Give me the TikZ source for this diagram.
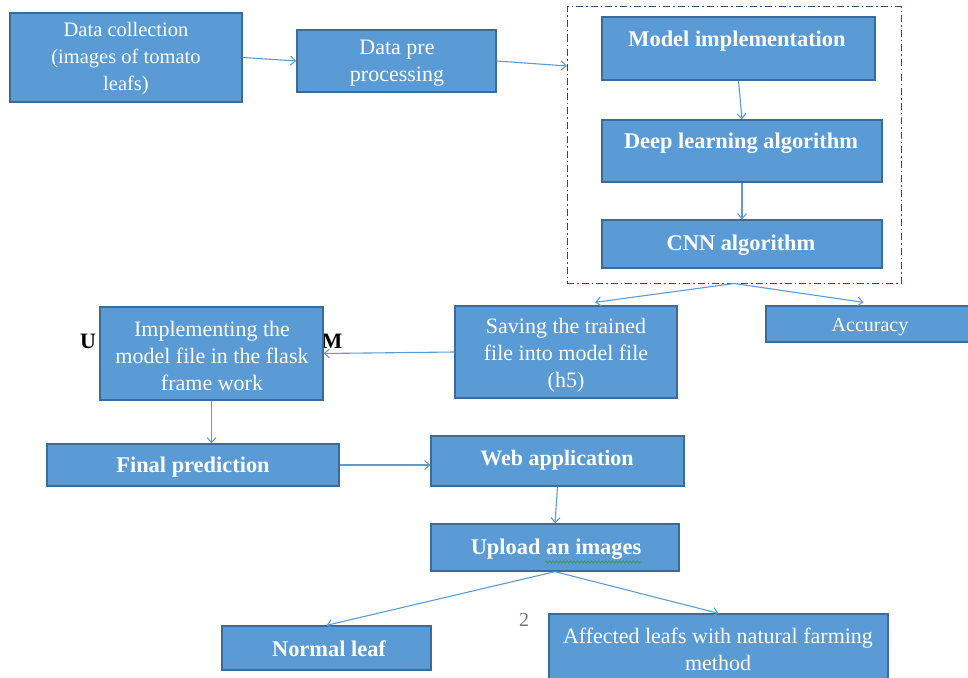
\documentclass[tikz,border=0pt]{standalone}
\usepackage{fontspec}
\setmainfont{Liberation Serif}
\usetikzlibrary{arrows.meta,decorations.pathmorphing}
\definecolor{boxfill}{HTML}{5B9BD5}
\definecolor{boxline}{HTML}{3A6B9A}
\definecolor{linkblue}{HTML}{5B9BD5}
\definecolor{framecol}{HTML}{2A4A78}
\definecolor{numcol}{HTML}{7F7263}
\definecolor{spellgreen}{HTML}{3C9A3C}
\tikzset{
  box/.style={draw=boxline, fill=boxfill, line width=1.3pt, inner sep=0pt},
  txt/.style={text=white, align=center, font=\rmfamily\fontsize{22}{27}\selectfont, inner sep=0pt},
  btxt/.style={txt, font=\rmfamily\fontsize{22.4}{27}\selectfont\bfseries},
  link/.style={draw=linkblue, line width=1.1pt, -{Straight Barb[length=5pt,width=9pt]}},
  groupframe/.style={draw=framecol, line width=1pt, dash pattern=on 7pt off 3pt on 1.5pt off 3pt, inner sep=0pt}
}
\begin{document}
\begin{tikzpicture}[x=1pt,y=-1pt]
\useasboundingbox (0,0) rectangle (968,677);

% heading partly hidden behind the flask box
\node[font=\rmfamily\fontsize{22}{26}\selectfont\bfseries] (hu) at (88,341) {U};
\node[font=\rmfamily\fontsize{22}{26}\selectfont\bfseries] (hm) at (332,341) {M};

% top row
\node[box, minimum width=232pt, minimum height=89pt] (dc) at (126,57.5) {};
\node[txt, font=\rmfamily\fontsize{20.5}{27}\selectfont] at (126,59) {Data collection\\(images of tomato\\leafs)};
\node[box, minimum width=199pt, minimum height=62pt] (dpp) at (396.5,61) {};
\node[txt] at (397,63) {Data pre\\processing};

% model group
\node[groupframe, minimum width=334pt, minimum height=276pt] (frame) at (734,145) {};
\coordinate (fin) at (567,66);
\node[box, minimum width=273pt, minimum height=63pt] (mi) at (738.5,48.5) {};
\node[btxt] at (737,41) {Model implementation};
\node[box, minimum width=280pt, minimum height=62pt] (dl) at (742,151) {};
\node[btxt] at (741,143) {Deep learning algorithm};
\node[box, minimum width=280pt, minimum height=48pt] (cnn) at (742,244) {};
\node[btxt] at (741,245) {CNN algorithm};

% middle row
\node[box, minimum width=222pt, minimum height=92pt] (save) at (566,352) {};
\node[txt] at (566,355) {Saving the trained\\file into model file\\(h5)};
\node[box, minimum width=209pt, minimum height=36pt] (acc) at (870.5,324) {};
\node[txt, font=\rmfamily\fontsize{20}{24}\selectfont] at (870,327) {Accuracy};
\node[box, minimum width=223pt, minimum height=93pt] (impl) at (211.5,353.5) {};
\node[txt] at (212,356) {Implementing the\\model file in the flask\\frame work};

% lower rows
\node[box, minimum width=292pt, minimum height=42pt] (final) at (193,465) {};
\node[btxt] at (193,467) {Final prediction};
\node[box, minimum width=253pt, minimum height=50pt] (web) at (557.5,461) {};
\node[btxt, font=\rmfamily\fontsize{22}{27}\selectfont\bfseries] at (557,460) {Web application};
\node[box, minimum width=248pt, minimum height=47pt] (up) at (555,547.5) {};
\node[btxt] (uptext) at (556,549) {Upload an images};
\draw[spellgreen, line width=0.7pt, decorate,
      decoration={snake, amplitude=1.1pt, segment length=3.5pt}]
  (545,562) -- (641,562);
\node[box, minimum width=209pt, minimum height=44pt] (normal) at (326.5,648) {};
\node[btxt] at (329,649) {Normal leaf};
\node[box, minimum width=339pt, minimum height=71pt] (aff) at (718.5,649.5) {};
\node[txt] at (718,649) {Affected leafs with natural farming\\method};
\node[text=numcol, font=\rmfamily\fontsize{20}{22}\selectfont] (pg) at (524,620) {2};

% connectors
\draw[link] (dc.east) -- (dpp.west);
\draw[link] (dpp.east) -- (fin);
\draw[link] (mi.south) -- (dl.north);
\draw[link] (dl.south) -- (cnn.north);
\draw[link] (frame.south) -- ([xshift=29pt,yshift=3pt]save.north);
\draw[link] (frame.south) -- ([xshift=-7pt,yshift=3pt]acc.north);
\draw[link] (save.west) -- (impl.east);
\draw[link] (impl.south) -- (impl.south |- final.north);
\draw[link] (final.east) -- (final.east -| web.west);
\draw[link] (web.south) -- (up.north);
\draw[link] (up.south) -- (normal.north);
\draw[link] (up.south) -- (aff.north);
\end{tikzpicture}
\end{document}
